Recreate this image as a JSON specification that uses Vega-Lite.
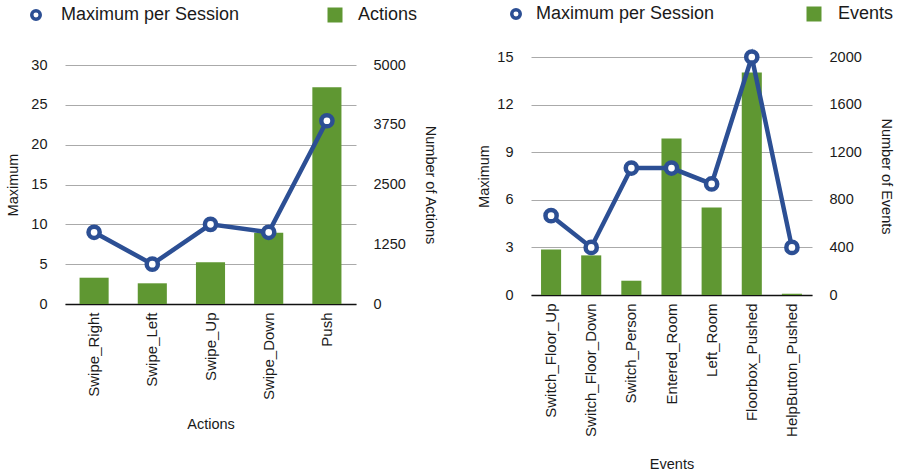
{
  "$schema": "https://vega.github.io/schema/vega-lite/v6.json",
  "background": "white",
  "padding": {"left": 5, "top": 5, "right": 2, "bottom": 5},
  "config": {
    "font": "Liberation Sans",
    "view": {"stroke": null},
    "axis": {
      "labelFont": "Liberation Sans",
      "titleFont": "Liberation Sans",
      "labelFontSize": 14.5,
      "titleFontSize": 14.5,
      "titleFontWeight": "normal",
      "labelColor": "#1a1a1a",
      "titleColor": "#1a1a1a",
      "ticks": false
    },
    "axisX": {"labelFontSize": 15},
    "legend": {
      "labelFont": "Liberation Sans",
      "labelFontSize": 18,
      "labelColor": "#1a1a1a",
      "labelLimit": 0,
      "padding": 0,
      "title": null,
      "orient": "none",
      "direction": "horizontal"
    }
  },
  "datasets": {
    "actions": [
      {"action": "Swipe_Right", "maximum": 9, "count": 550},
      {"action": "Swipe_Left", "maximum": 5, "count": 433},
      {"action": "Swipe_Up", "maximum": 10, "count": 872},
      {"action": "Swipe_Down", "maximum": 9, "count": 1492},
      {"action": "Push", "maximum": 23, "count": 4533}
    ],
    "events": [
      {"event": "Switch_Floor_Up", "maximum": 5, "count": 383},
      {"event": "Switch_Floor_Down", "maximum": 3, "count": 333},
      {"event": "Switch_Person", "maximum": 8, "count": 120},
      {"event": "Entered_Room", "maximum": 8, "count": 1315},
      {"event": "Left_Room", "maximum": 7, "count": 736},
      {"event": "Floorbox_Pushed", "maximum": 15, "count": 1869},
      {"event": "HelpButton_Pushed", "maximum": 3, "count": 11}
    ]
  },
  "spacing": 38,
  "resolve": {
    "scale": {"fill": "independent", "stroke": "independent"},
    "legend": {"fill": "independent", "stroke": "independent"}
  },
  "hconcat": [
    {
      "width": 291,
      "height": 247,
      "data": {"name": "actions"},
      "encoding": {
        "x": {
          "field": "action",
          "type": "nominal",
          "sort": null,
          "scale": {"paddingInner": 0.5, "paddingOuter": 0.25},
          "axis": {
            "title": "Actions",
            "labelAngle": -90,
            "labelPadding": 8,
            "titlePadding": 18,
            "domainColor": "#111111",
            "domainWidth": 1.5,
            "grid": false
          }
        }
      },
      "layer": [
        {
          "mark": {"type": "bar"},
          "encoding": {
            "y": {
              "field": "count",
              "type": "quantitative",
              "scale": {"domain": [0, 5000], "range": [247, 8]},
              "axis": {
                "orient": "right",
                "title": "Number of Actions",
                "values": [0, 1250, 2500, 3750, 5000],
                "format": "d",
                "grid": false,
                "domain": false,
                "labelPadding": 17,
                "titlePadding": 17
              }
            },
            "fill": {
              "datum": "Actions",
              "type": "nominal",
              "scale": {"range": ["#5f9732"]},
              "legend": {
                "legendX": 261,
                "legendY": -51,
                "symbolType": "square",
                "symbolSize": 225,
                "symbolStrokeWidth": 0,
                "labelOffset": 14
              }
            }
          }
        },
        {
          "mark": {"type": "line", "strokeWidth": 4.5, "color": "#2c4f94"},
          "encoding": {
            "y": {
              "field": "maximum",
              "type": "quantitative",
              "scale": {"domain": [0, 30], "range": [247, 8]},
              "axis": {
                "orient": "left",
                "title": "Maximum",
                "values": [0, 5, 10, 15, 20, 25, 30],
                "grid": true,
                "gridColor": "#aaaaaa",
                "gridWidth": 1,
                "domain": false,
                "labelPadding": 18,
                "titlePadding": 10
              }
            }
          }
        },
        {
          "mark": {"type": "point", "filled": false, "fill": "white", "size": 125, "strokeWidth": 4.5, "opacity": 1},
          "encoding": {
            "y": {"field": "maximum", "type": "quantitative", "scale": {"domain": [0, 30], "range": [247, 8]}, "axis": null},
            "stroke": {
              "datum": "Maximum per Session",
              "type": "nominal",
              "scale": {"range": ["#2c4f94"]},
              "legend": {
                "legendX": -38,
                "legendY": -51,
                "symbolType": "circle",
                "symbolSize": 72,
                "symbolStrokeWidth": 3.5,
                "symbolFillColor": "#ffffff",
                "labelOffset": 16
              }
            }
          }
        }
      ],
      "resolve": {"scale": {"y": "independent"}}
    },
    {
      "width": 281,
      "height": 238,
      "data": {"name": "events"},
      "encoding": {
        "x": {
          "field": "event",
          "type": "nominal",
          "sort": null,
          "scale": {"paddingInner": 0.5, "paddingOuter": 0.25},
          "axis": {
            "title": "Events",
            "labelAngle": -90,
            "labelPadding": 8,
            "titlePadding": 21,
            "domainColor": "#111111",
            "domainWidth": 1.5,
            "grid": false
          }
        }
      },
      "layer": [
        {
          "mark": {"type": "bar"},
          "encoding": {
            "y": {
              "field": "count",
              "type": "quantitative",
              "scale": {"domain": [0, 2000]},
              "axis": {
                "orient": "right",
                "title": "Number of Events",
                "values": [0, 400, 800, 1200, 1600, 2000],
                "format": "d",
                "grid": false,
                "domain": false,
                "labelPadding": 17,
                "titlePadding": 17
              }
            },
            "fill": {
              "datum": "Events",
              "type": "nominal",
              "scale": {"range": ["#5f9732"]},
              "legend": {
                "legendX": 274,
                "legendY": -52,
                "symbolType": "square",
                "symbolSize": 225,
                "symbolStrokeWidth": 0,
                "labelOffset": 15
              }
            }
          }
        },
        {
          "mark": {"type": "line", "strokeWidth": 4.5, "color": "#2c4f94"},
          "encoding": {
            "y": {
              "field": "maximum",
              "type": "quantitative",
              "scale": {"domain": [0, 15]},
              "axis": {
                "orient": "left",
                "title": "Maximum",
                "values": [0, 3, 6, 9, 12, 15],
                "grid": true,
                "gridColor": "#aaaaaa",
                "gridWidth": 1,
                "domain": false,
                "labelPadding": 18,
                "titlePadding": 5
              }
            }
          }
        },
        {
          "mark": {"type": "point", "filled": false, "fill": "white", "size": 125, "strokeWidth": 4.5, "opacity": 1},
          "encoding": {
            "y": {"field": "maximum", "type": "quantitative", "scale": {"domain": [0, 15]}, "axis": null},
            "stroke": {
              "datum": "Maximum per Session",
              "type": "nominal",
              "scale": {"range": ["#2c4f94"]},
              "legend": {
                "legendX": -24,
                "legendY": -52,
                "symbolType": "circle",
                "symbolSize": 72,
                "symbolStrokeWidth": 3.5,
                "symbolFillColor": "#ffffff",
                "labelOffset": 11
              }
            }
          }
        }
      ],
      "resolve": {"scale": {"y": "independent"}}
    }
  ]
}
